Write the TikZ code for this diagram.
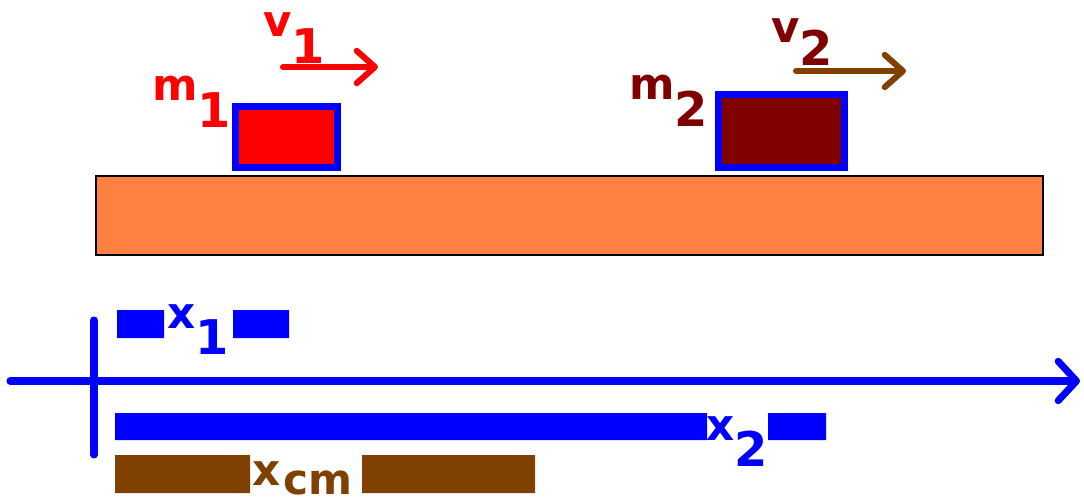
\documentclass[tikz,border=0pt]{standalone}
\usepackage{fontspec}
\setmainfont{DejaVu Sans}
\usepackage{xcolor}
\usepackage{tikz}
\usetikzlibrary{arrows.meta}
\usetikzlibrary{positioning}
\definecolor{tablecol}{HTML}{FF8040}
\definecolor{darkmass}{HTML}{800000}
\definecolor{brownish}{HTML}{804000}
% letter, then lowered subscript
\newcommand{\symlbl}[3]{{\fontsize{31}{32}\selectfont #1}\raisebox{-#3}{\fontsize{34}{34}\selectfont #2}}

\begin{document}
\begin{tikzpicture}[x=0.025cm, y=-0.025cm,
	every node/.style={inner sep=0pt, anchor=base west, font=\bfseries},
	blockline/.style={draw=blue, line width=5pt},
	velarrow/.style={line width=4.3pt, line cap=round, -{Straight Barb[length=13pt, width=23pt, round]}},
	axisline/.style={blue, line width=5pt, line cap=round}]
		\useasboundingbox (0,0) rectangle (1084,504);
		% table and the two masses
		\draw[fill=tablecol, line width=1pt] (96,176) rectangle (1043,255);
		\draw[blockline, fill=red] (235.5,106.5) rectangle (337.5,167.5);
		\draw[blockline, fill=darkmass] (718.5,94.5) rectangle (844.5,167.5);
		\node[red] (m1) at (152,101) {\symlbl{m}{1}{19pt}};
		\node[darkmass] (m2) at (629,100) {\symlbl{m}{2}{19pt}};
		% velocities
		\node[red] (v1) at (263,37) {\symlbl{v}{1}{19pt}};
		\node[darkmass] (v2) at (771,43) {\symlbl{v}{2}{16pt}};
		\coordinate (v1s) at (283,67);
		\coordinate (v1e) at (378,67);
		\coordinate (v2s) at (796,71);
		\coordinate (v2e) at (906,71);
		\draw[velarrow, red] (v1s) -- (v1e);
		\draw[velarrow, brownish] (v2s) -- (v2e);
		% axis
		\coordinate (axL) at (10,381);
		\coordinate (axR) at (1080,381);
		\coordinate (tkT) at (94,320);
		\coordinate (tkB) at (94,455);
		\draw[axisline, -{Straight Barb[length=13pt, width=28pt, round]}] (axL) -- (axR);
		\draw[axisline] (tkT) -- (tkB);
		% positions
		\fill[blue] (117,310) rectangle (164,338) (233,310) rectangle (289,338);
		\node[blue] (x1) at (167,328) {\symlbl{x}{1}{19pt}};
		\fill[blue] (115,413) rectangle (707,440) (768,413) rectangle (826,440);
		\node[blue] (x2) at (706,440) {\symlbl{x}{2}{19pt}};
		\fill[brownish] (115,455) rectangle (250,493) (362,455) rectangle (535,493);
		\node[brownish] (xcm) at (252,485) {{\fontsize{31}{32}\selectfont x}\hspace{2pt}\raisebox{-7pt}{\fontsize{30}{32}\selectfont cm}};
\end{tikzpicture}
\end{document}
